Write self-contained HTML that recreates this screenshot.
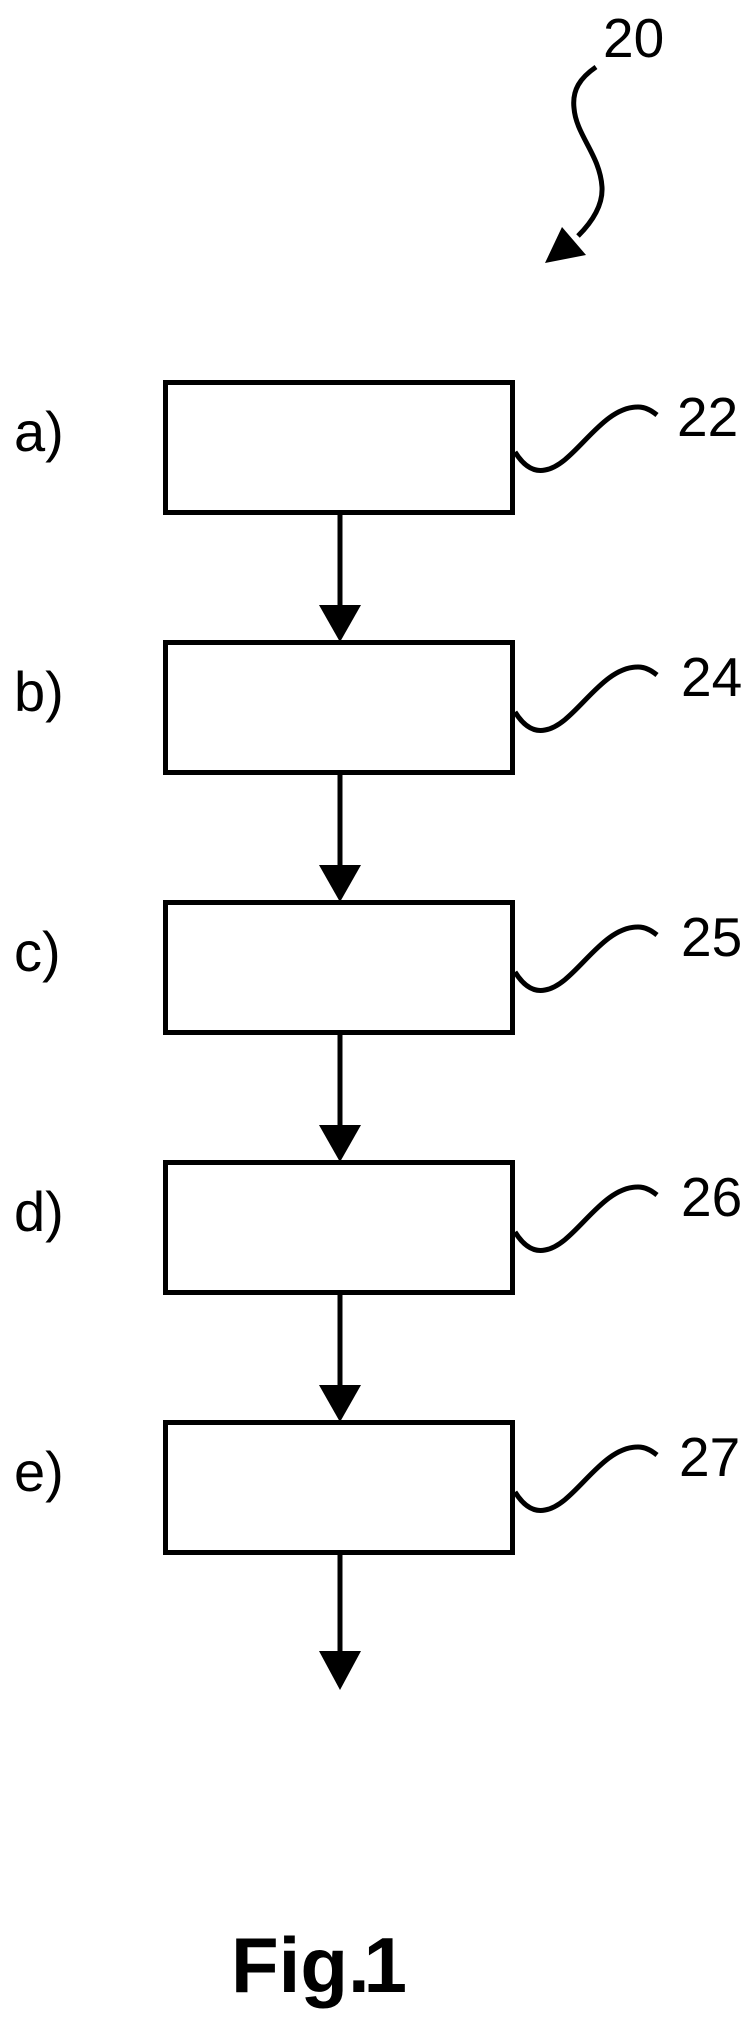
<!DOCTYPE html>
<html><head><meta charset="utf-8"><style>
html,body{margin:0;padding:0;background:#fff;}
svg{display:block;}
text{font-family:"Liberation Sans",Arial,sans-serif;fill:#000;}
</style></head><body>
<svg width="756" height="2020" viewBox="0 0 756 2020" xmlns="http://www.w3.org/2000/svg">
<text x="603" y="57" font-size="55">20</text>
<path d="M596 67 C580 78 572 90 574 108 C576 135 600 155 602 187 C603 205 592 222 578 236" fill="none" stroke="#000" stroke-width="5"/>
<polygon points="545,263 562,227 586,255" fill="#000"/>

<g id="s">
</g>
<!-- boxes -->
<g fill="none" stroke="#000" stroke-width="5">
<rect x="165.5" y="382.5" width="347" height="130"/>
<rect x="165.5" y="642.5" width="347" height="130"/>
<rect x="165.5" y="902.5" width="347" height="130"/>
<rect x="165.5" y="1162.5" width="347" height="130"/>
<rect x="165.5" y="1422.5" width="347" height="130"/>
<path d="M515 452 C525 468 535 472 545 470 C575 465 600 407 638 407 C646 407 652 411 657 415"/>
<path d="M515 712 C525 728 535 732 545 730 C575 725 600 667 638 667 C646 667 652 671 657 675"/>
<path d="M515 972 C525 988 535 992 545 990 C575 985 600 927 638 927 C646 927 652 931 657 935"/>
<path d="M515 1232 C525 1248 535 1252 545 1250 C575 1245 600 1187 638 1187 C646 1187 652 1191 657 1195"/>
<path d="M515 1492 C525 1508 535 1512 545 1510 C575 1505 600 1447 638 1447 C646 1447 652 1451 657 1455"/>
<line x1="340" y1="515" x2="340" y2="610"/>
<line x1="340" y1="775" x2="340" y2="870"/>
<line x1="340" y1="1035" x2="340" y2="1130"/>
<line x1="340" y1="1295" x2="340" y2="1390"/>
<line x1="340" y1="1555" x2="340" y2="1655"/>
</g>
<g fill="#000">
<polygon points="319,605 361,605 340,642"/>
<polygon points="319,865 361,865 340,902"/>
<polygon points="319,1125 361,1125 340,1162"/>
<polygon points="319,1385 361,1385 340,1422"/>
<polygon points="319,1651 361,1651 340,1690"/>
</g>
<g font-size="56">
<text x="14" y="451">a)</text>
<text x="14" y="711">b)</text>
<text x="14" y="971">c)</text>
<text x="14" y="1231">d)</text>
<text x="14" y="1491">e)</text>
</g>
<g font-size="55">
<text x="677" y="436">22</text>
<text x="681" y="696">24</text>
<text x="681" y="956">25</text>
<text x="681" y="1216">26</text>
<text x="679" y="1476">27</text>
</g>
<text x="231" y="1992" font-size="78" font-weight="bold">Fig.<tspan dx="-6">1</tspan></text>
</svg>
</body></html>
